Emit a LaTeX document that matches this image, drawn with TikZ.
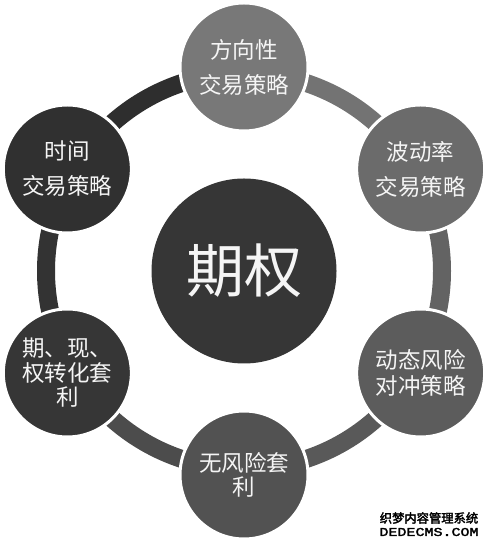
\documentclass[tikz,border=0pt]{standalone}
\usepackage{fontspec}
\usepackage{graphicx}
\setmainfont{Noto Sans CJK SC}
\newfontfamily\wmfont[FakeBold=2.5]{Noto Sans CJK SC}
\newfontfamily\wmlatin[FakeBold=2]{Liberation Mono}
\definecolor{cTop}{gray}{0.47}
\definecolor{cUR}{gray}{0.42}
\definecolor{cLR}{gray}{0.36}
\definecolor{cBot}{gray}{0.32}
\definecolor{cLL}{gray}{0.21}
\definecolor{cUL}{gray}{0.19}
\definecolor{cMid}{gray}{0.21}
\definecolor{sA}{gray}{0.45}
\definecolor{sB}{gray}{0.39}
\definecolor{sC}{gray}{0.35}
\definecolor{sD}{gray}{0.30}
\definecolor{sE}{gray}{0.20}
\definecolor{sF}{gray}{0.18}
\definecolor{txt}{gray}{0.96}
\begin{document}
\begin{tikzpicture}[x=1pt,y=1pt,
  ringseg/.style={line width=18pt},
  outercirc/.style={circle, minimum size=128pt, inner sep=0pt, draw=white, line width=3pt,
    text=txt, align=center},
  capt/.style={font=\fontsize{22.5}{#1}\selectfont},
  midcirc/.style={circle, minimum size=185pt, inner sep=0pt, fill=cMid, text=txt,
    font=\fontsize{58}{60}\selectfont}]
\useasboundingbox (0,0) rectangle (488,545);
\fill[white] (0,0) rectangle (488,545);
% centre
\node[midcirc] (c) at (244,274) {期权};
% ring
\draw[ringseg, sA] ([shift={(90:198)}]c.center) arc[start angle=90, end angle=30, radius=198];
\draw[ringseg, sB] ([shift={(30:198)}]c.center) arc[start angle=30, end angle=-30, radius=198];
\draw[ringseg, sC] ([shift={(-30:198)}]c.center) arc[start angle=-30, end angle=-90, radius=198];
\draw[ringseg, sD] ([shift={(-90:198)}]c.center) arc[start angle=-90, end angle=-150, radius=198];
\draw[ringseg, sE] ([shift={(-150:198)}]c.center) arc[start angle=-150, end angle=-210, radius=198];
\draw[ringseg, sF] ([shift={(150:198)}]c.center) arc[start angle=150, end angle=90, radius=198];
% outer circles
\node[outercirc, fill=cTop, capt=35] (n1) at ([shift={(90:204)}]c.center) {方向性\\交易策略};
\node[outercirc, fill=cUR, capt=35] (n2) at ([shift={(30:204)}]c.center) {波动率\\交易策略};
\node[outercirc, fill=cLR, capt=26] (n3) at ([shift={(-30:204)}]c.center) {动态风险\\对冲策略};
\node[outercirc, fill=cBot, capt=24] (n4) at ([shift={(-90:204)}]c.center) {无风险套\\利};
\node[outercirc, fill=cLL, capt=24.5] (n5) at ([shift={(-150:204)}]c.center) {期、现、\\权转化套\\利};
\node[outercirc, fill=cUL, capt=35] (n6) at ([shift={(150:204)}]c.center) {时间\\交易策略};
% watermark
\node[inner sep=0pt, font=\wmfont\fontsize{12.3}{13}\selectfont] (wm1) at (429,27) {织梦内容管理系统};
\node[inner sep=0pt, font=\wmlatin\fontsize{12}{12}\selectfont] (wm2) at (429,13)
  {\scalebox{1.25}[1]{DEDECMS.COM}};
\end{tikzpicture}
\end{document}
